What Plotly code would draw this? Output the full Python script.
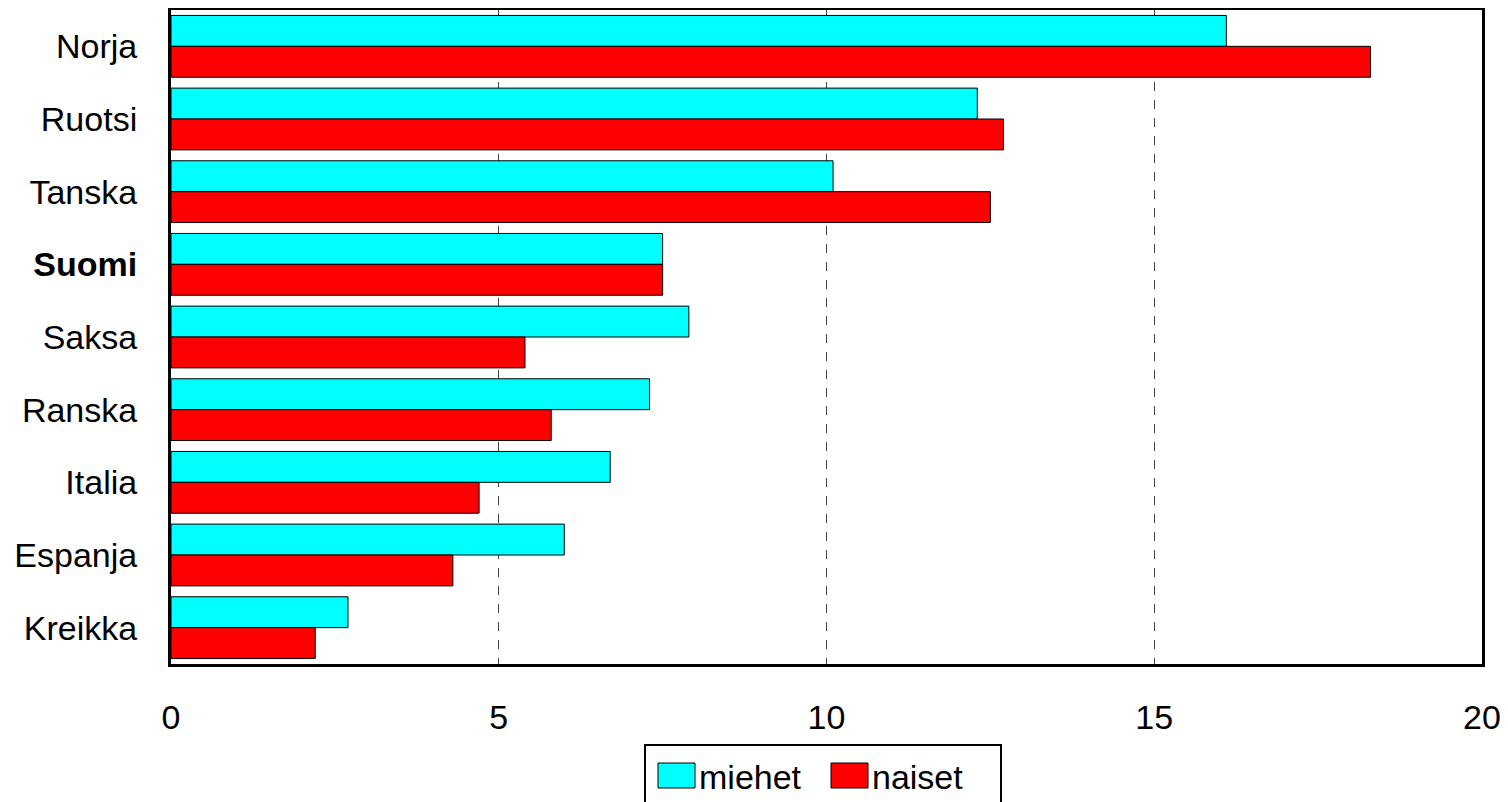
import plotly.graph_objects as go

countries = ["Norja", "Ruotsi", "Tanska", "Suomi", "Saksa", "Ranska", "Italia", "Espanja", "Kreikka"]
tick_labels = ["Norja", "Ruotsi", "Tanska", "<b>Suomi</b>", "Saksa", "Ranska", "Italia", "Espanja", "Kreikka"]
miehet = [16.1, 12.3, 10.1, 7.5, 7.9, 7.3, 6.7, 6.0, 2.7]
naiset = [18.3, 12.7, 12.5, 7.5, 5.4, 5.8, 4.7, 4.3, 2.2]
x_ticks = [0, 5, 10, 15, 20]
series_names = ["miehet", "naiset"]

FONT = "Liberation Sans, Arial, sans-serif"
FS = 34

# page-pixel geometry of the plot area (body has an 8px margin)
PL, PR, PT, PB = 171, 1482, 10, 664
PW, PH = PR - PL, PB - PT


def px(x):
    return (x - PL) / PW


def py(y):
    return (PB - y) / PH


fig = go.Figure()
fig.add_trace(go.Bar(y=countries, x=miehet, orientation="h", name=series_names[0],
                     marker=dict(color="#00FFFF", line=dict(color="black", width=1)),
                     showlegend=False))
fig.add_trace(go.Bar(y=countries, x=naiset, orientation="h", name=series_names[1],
                     marker=dict(color="#FF0000", line=dict(color="black", width=1)),
                     showlegend=False))

fig.update_layout(
    width=1500, height=794,
    margin=dict(l=PL - 8, r=1500 - (PR - 8), t=PT - 8, b=794 - (PB - 8), autoexpand=False),
    paper_bgcolor="white", plot_bgcolor="white",
    barmode="group", bargap=0.15, bargroupgap=0,
    font=dict(family=FONT, size=FS, color="black"),
)
fig.update_xaxes(
    range=[0, 20], tickvals=x_ticks, ticktext=[str(v) for v in x_ticks],
    showgrid=True, gridcolor="#444444", gridwidth=1, griddash="dash",
    showline=True, linecolor="black", linewidth=3, mirror=True,
    ticks="", ticklabelstandoff=21, zeroline=False, automargin=False,
)
fig.update_yaxes(
    categoryorder="array", categoryarray=countries,
    tickvals=countries, ticktext=tick_labels,
    autorange="reversed",
    showgrid=False,
    showline=True, linecolor="black", linewidth=3, mirror=True,
    ticks="", ticklabelstandoff=24, automargin=False,
)

# custom legend
fig.add_shape(type="rect", xref="paper", yref="paper",
              x0=px(645), x1=px(1001), y0=py(812), y1=py(745),
              line=dict(color="black", width=2), fillcolor="white")
fig.add_shape(type="rect", xref="paper", yref="paper",
              x0=px(658), x1=px(695), y0=py(788), y1=py(763),
              line=dict(color="black", width=1), fillcolor="#00FFFF")
fig.add_shape(type="rect", xref="paper", yref="paper",
              x0=px(831), x1=px(868), y0=py(788), y1=py(763),
              line=dict(color="black", width=1), fillcolor="#FF0000")
fig.add_annotation(xref="paper", yref="paper", x=px(697), y=py(777),
                   text=series_names[0], showarrow=False, xanchor="left", yanchor="middle",
                   font=dict(family=FONT, size=FS, color="black"))
fig.add_annotation(xref="paper", yref="paper", x=px(870), y=py(777),
                   text=series_names[1], showarrow=False, xanchor="left", yanchor="middle",
                   font=dict(family=FONT, size=FS, color="black"))

fig.write_html("out.html")
